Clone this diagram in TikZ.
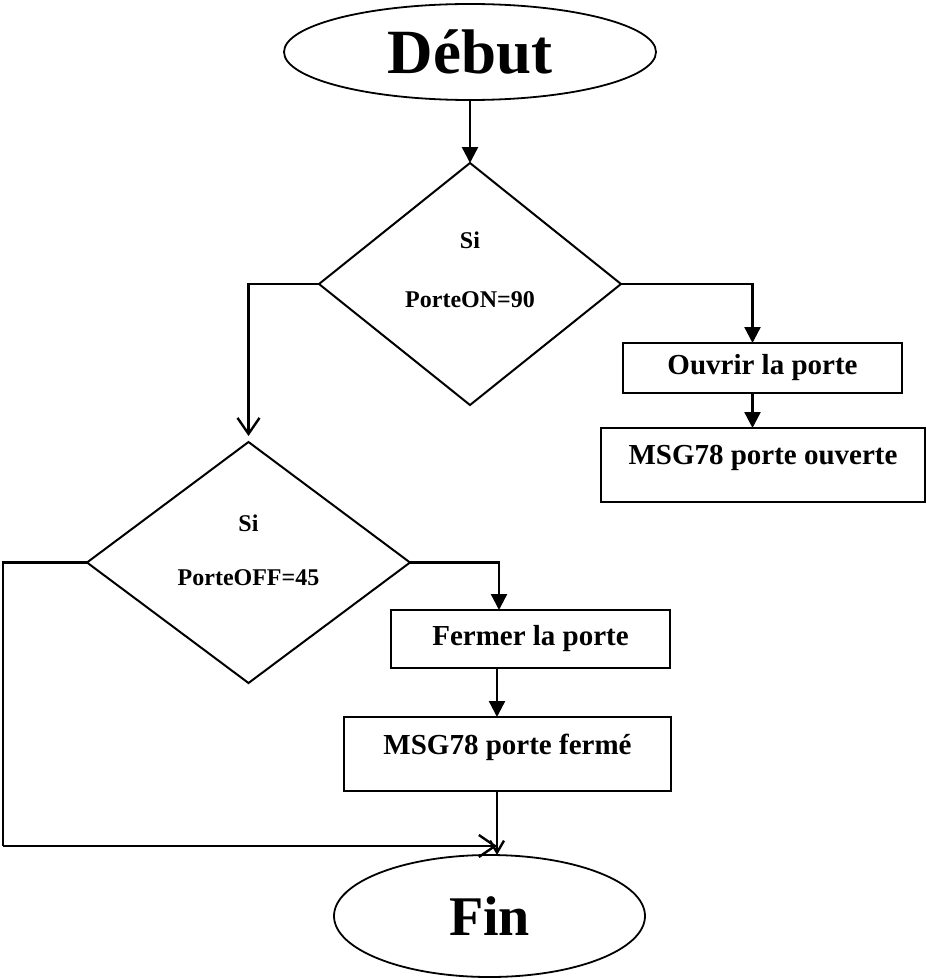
\documentclass[tikz,border=0pt]{standalone}
\usepackage{fontspec}
\setmainfont{Liberation Serif}
\usetikzlibrary{shapes.geometric,arrows.meta}

\begin{document}
\begin{tikzpicture}[x=1pt,y=-1pt,
    shapeline/.style={draw=black,line width=2pt,outer sep=0pt,inner sep=0pt},
    terminal/.style={shapeline,ellipse,line width=1.8pt},
    decision/.style={shapeline,diamond},
    stepbox/.style={shapeline,rectangle,font=\fontsize{29}{34}\selectfont\bfseries},
    condtext/.style={font=\fontsize{24}{28}\selectfont\bfseries,inner sep=0pt},
    flow/.style={line width=2.4pt,-{Triangle[width=16pt,length=16pt]}},
    openflow/.style={line width=2.4pt,-{Straight Barb[width=22pt,length=16pt,line width=2.4pt]}},
    openflowsmall/.style={line width=2.4pt,-{Straight Barb[width=14pt,length=12pt,line width=2.4pt]}}
  ]
  \useasboundingbox (0,0) rectangle (926,979);

  % start and end
  \node[terminal,minimum width=372pt,minimum height=96pt] (debut) at (470,52)
    {\fontsize{63}{70}\selectfont\bfseries Début};
  \node[terminal,minimum width=311pt,minimum height=122pt] (fin) at (489.5,916)
    {\fontsize{56}{62}\selectfont\bfseries Fin};

  % decisions
  \node[decision,minimum width=302pt,minimum height=242pt] (d1) at (470,284) {};
  \node[condtext] (d1a) at (470,240) {Si};
  \node[condtext] (d1b) at (470,300) {PorteON=90};

  \node[decision,minimum width=323pt,minimum height=241pt] (d2) at (248.5,562.5) {};
  \node[condtext] (d2a) at (248.5,523) {Si};
  \node[condtext] (d2b) at (248.5,578) {PorteOFF=45};

  % actions
  \node[stepbox,minimum width=279pt,minimum height=50pt] (ouvrir) at (762.5,368) {Ouvrir la porte};
  \node[stepbox,minimum width=324pt,minimum height=74pt,text depth=20pt] (msgo) at (763,465) {MSG78 porte ouverte};
  \node[stepbox,minimum width=279pt,minimum height=58pt] (fermer) at (530.5,639) {Fermer la porte};
  \node[stepbox,minimum width=327pt,minimum height=74pt,text depth=20pt] (msgf) at (507.5,754) {MSG78 porte fermé};

  % junction points
  \coordinate (bl) at (3,846);
  \coordinate (jn) at (497,846);

  % connectors
  \draw[flow] (debut.south) -- (d1.north);
  \draw[openflow,shorten >=6pt] (d1.west) -| (d2.north);
  \draw[flow] (d1.east) -| ([xshift=-10pt]ouvrir.north);
  \draw[flow] ([xshift=-10pt]ouvrir.south) -- ([xshift=-10pt]ouvrir.south |- msgo.north);
  \draw[flow] (d2.east) -| ([xshift=-31.5pt]fermer.north);
  \draw[flow] ([xshift=-33.5pt]fermer.south) -- ([xshift=-33.5pt]fermer.south |- msgf.north);
  \draw[line width=2.4pt] (d2.west) -| (bl);
  \draw[openflow] (bl) -- (jn);
  \draw[openflowsmall] ([xshift=-10.5pt]msgf.south) -- ([xshift=-10.5pt]msgf.south |- fin.north);
\end{tikzpicture}
\end{document}
